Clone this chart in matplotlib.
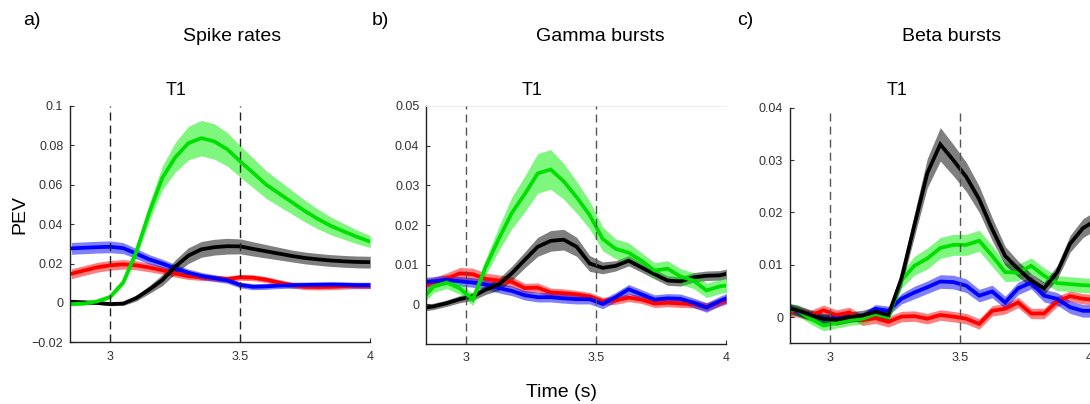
import numpy as np
import matplotlib
matplotlib.use("Agg")
import matplotlib.pyplot as plt

plt.rcParams['font.family'] = ['Liberation Sans', 'DejaVu Sans']

# ---------------- data ----------------
# Panel a (spike rates): smooth curves sampled every 50 ms
t_a = [2.85, 2.90, 2.95, 3.00, 3.05, 3.10, 3.15, 3.20, 3.25, 3.30, 3.35, 3.40,
       3.45, 3.50, 3.55, 3.60, 3.65, 3.70, 3.75, 3.80, 3.85, 3.90, 3.95, 4.00]
a_green = [-0.0006, -0.0003, 0.0008, 0.0031, 0.0105, 0.026, 0.046, 0.0635, 0.074, 0.0811, 0.0837, 0.082,
           0.078, 0.0718, 0.066, 0.0600, 0.0555, 0.0510, 0.0465, 0.0425, 0.0390, 0.0362, 0.0335, 0.0311]
a_green_err = [0.0008, 0.0008, 0.0009, 0.001, 0.0015, 0.003, 0.0045, 0.006, 0.0075, 0.0085, 0.009, 0.009,
               0.0085, 0.008, 0.0075, 0.007, 0.0065, 0.006, 0.0055, 0.005, 0.0045, 0.004, 0.0035, 0.003]
a_black = [0.0006, 0.0003, 0.0, -0.0006, -0.0003, 0.0025, 0.0068, 0.0116, 0.0184, 0.024, 0.0272, 0.0283,
           0.0288, 0.0287, 0.0274, 0.0262, 0.025, 0.0238, 0.0228, 0.0221, 0.0215, 0.0211, 0.0208, 0.0207]
a_black_err = [0.0008, 0.0008, 0.0008, 0.0008, 0.001, 0.0015, 0.002, 0.0028, 0.0035, 0.004, 0.004, 0.004,
               0.004, 0.0038, 0.0036, 0.0034, 0.0032, 0.003, 0.003, 0.003, 0.003, 0.003, 0.003, 0.003]
a_blue = [0.0277, 0.0280, 0.0283, 0.0285, 0.0278, 0.0250, 0.0221, 0.020, 0.0175, 0.0153, 0.0137, 0.0126,
          0.0115, 0.0091, 0.0082, 0.0084, 0.0088, 0.009, 0.0091, 0.0092, 0.0093, 0.0092, 0.009, 0.009]
a_blue_err = [0.003, 0.003, 0.003, 0.003, 0.0028, 0.0026, 0.0024, 0.0022, 0.002, 0.0019, 0.0018, 0.0017,
              0.0016, 0.0015, 0.0015, 0.0015, 0.0015, 0.0015, 0.0015, 0.0015, 0.0015, 0.0015, 0.0015, 0.0015]
a_red = [0.0148, 0.0165, 0.0181, 0.0191, 0.0196, 0.0191, 0.018, 0.0166, 0.0149, 0.0136, 0.013, 0.0126,
         0.0121, 0.013, 0.0128, 0.0118, 0.0103, 0.0090, 0.0082, 0.0081, 0.0082, 0.0085, 0.0087, 0.0087]
a_red_err = [0.0025, 0.0025, 0.0025, 0.0025, 0.0024, 0.0023, 0.0022, 0.002, 0.0018, 0.0017, 0.0016, 0.0015,
             0.0015, 0.0015, 0.0015, 0.0015, 0.0015, 0.0015, 0.0015, 0.0015, 0.0015, 0.0015, 0.0015, 0.0015]

# Panels b and c (bursts): 50 ms bins centred on x.x25 / x.x75
t_bc = [2.825, 2.875, 2.925, 2.975, 3.025, 3.075, 3.125, 3.175, 3.225, 3.275, 3.325, 3.375, 3.425,
        3.475, 3.525, 3.575, 3.625, 3.675, 3.725, 3.775, 3.825, 3.875, 3.925, 3.975, 4.025]

b_green = [0.001, 0.0045, 0.0055, 0.004, 0.0012, 0.0095, 0.0165, 0.023, 0.0278, 0.033, 0.034, 0.031, 0.027,
           0.0225, 0.0165, 0.014, 0.013, 0.011, 0.0085, 0.009, 0.007, 0.006, 0.0035, 0.0045, 0.005]
b_green_err = [0.0015, 0.0015, 0.0015, 0.0015, 0.0015, 0.002, 0.003, 0.004, 0.0045, 0.005, 0.005, 0.0045, 0.004,
               0.0035, 0.003, 0.0025, 0.0025, 0.002, 0.002, 0.002, 0.002, 0.002, 0.0018, 0.0018, 0.0018]
b_black = [-0.001, -0.0005, 0.0003, 0.0013, 0.002, 0.0037, 0.005, 0.0078, 0.0112, 0.0145, 0.016, 0.0163, 0.0145,
           0.0103, 0.0092, 0.0097, 0.011, 0.0093, 0.0076, 0.006, 0.0058, 0.0068, 0.0072, 0.0073, 0.008]
b_black_err = [0.0008, 0.0008, 0.0008, 0.0009, 0.001, 0.0012, 0.0015, 0.0018, 0.002, 0.0024, 0.0026, 0.0026, 0.0024,
               0.002, 0.0015, 0.0013, 0.0013, 0.0012, 0.0012, 0.0012, 0.0012, 0.0012, 0.0012, 0.0012, 0.0012]
b_blue = [0.0055, 0.0058, 0.0062, 0.0058, 0.0055, 0.005, 0.0041, 0.0034, 0.0023, 0.0018, 0.0018, 0.0015, 0.0013,
          0.0013, 0.0001, 0.0018, 0.0038, 0.0025, 0.0012, 0.0015, 0.0014, 0.0004, -0.0008, 0.0008, 0.0022]
b_blue_err = [0.0012] * 25
b_red = [0.0048, 0.0055, 0.0065, 0.0078, 0.0076, 0.0064, 0.006, 0.0057, 0.0041, 0.0042, 0.003, 0.0028, 0.0025,
         0.002, 0.0008, 0.001, 0.0017, 0.0012, 0.0002, 0.0004, 0.0002, 0.0001, -0.0006, 0.0005, 0.0015]
b_red_err = [0.0013, 0.0013, 0.0014, 0.0015, 0.0015, 0.0015, 0.0014, 0.0013, 0.0012, 0.0012, 0.0011, 0.0011, 0.001,
             0.001, 0.001, 0.001, 0.001, 0.001, 0.001, 0.001, 0.001, 0.001, 0.001, 0.001, 0.001]

c_black = [0.0018, 0.0013, 0.0004, -0.0003, -0.0005, 0.0, 0.0003, 0.001, 0.0004, 0.0073, 0.0175, 0.0275, 0.033,
           0.030, 0.0268, 0.0225, 0.0168, 0.0117, 0.0092, 0.0070, 0.0055, 0.0085, 0.0140, 0.0170, 0.0185]
c_black_err = [0.001, 0.001, 0.001, 0.001, 0.001, 0.001, 0.001, 0.001, 0.001, 0.0015, 0.0022, 0.0028, 0.0032,
               0.003, 0.0028, 0.0025, 0.0022, 0.0018, 0.0015, 0.0013, 0.0012, 0.0013, 0.0016, 0.0018, 0.0018]
c_green = [0.0015, 0.0013, -0.0003, -0.0016, -0.0011, -0.0006, -0.0003, 0.0006, 0.0, 0.0070, 0.0098, 0.0112, 0.0132,
           0.0138, 0.0138, 0.0146, 0.0117, 0.0086, 0.0085, 0.0098, 0.0079, 0.0065, 0.0063, 0.0061, 0.006]
c_green_err = [0.001, 0.001, 0.001, 0.001, 0.001, 0.001, 0.001, 0.001, 0.001, 0.0015, 0.0018, 0.002, 0.002,
               0.002, 0.002, 0.002, 0.002, 0.0018, 0.0016, 0.0015, 0.0015, 0.0014, 0.0014, 0.0014, 0.0014]
c_blue = [0.0024, 0.001, 0.0003, -0.0003, -0.0003, 0.0, 0.0, 0.0016, 0.0012, 0.0035, 0.0047, 0.0057, 0.0068,
          0.0067, 0.006, 0.0041, 0.0049, 0.0028, 0.0055, 0.0066, 0.0041, 0.0035, 0.0019, 0.0012, 0.0012]
c_blue_err = [0.0008, 0.0008, 0.0008, 0.0008, 0.0008, 0.0008, 0.0008, 0.0008, 0.0009, 0.001, 0.0012, 0.0012, 0.0013,
              0.0013, 0.0013, 0.0012, 0.0012, 0.0012, 0.0012, 0.0012, 0.0012, 0.0012, 0.0012, 0.0012, 0.0012]
c_red = [0.0012, 0.001, 0.0003, 0.0013, 0.0004, 0.0009, -0.0006, -0.0002, -0.0009, 0.0001, 0.0002, -0.0003, 0.0004,
         0.0001, -0.0003, -0.0013, 0.0012, 0.0016, 0.0028, 0.0007, 0.0007, 0.003, 0.0040, 0.0035, 0.0033]
c_red_err = [0.001] * 25

# labels
panel_letters = ["a)", "b)", "c)"]
panel_titles = ["Spike rates", "Gamma bursts", "Beta bursts"]
sub_title = "T1"
x_ticks = [3, 3.5, 4]
x_ticklabels = ["3", "3.5", "4"]
a_yticks = [-0.02, 0, 0.02, 0.04, 0.06, 0.08, 0.1]
a_yticklabels = ["\u22120.02", "0", "0.02", "0.04", "0.06", "0.08", "0.1"]
b_yticks = [0, 0.01, 0.02, 0.03, 0.04, 0.05]
b_yticklabels = ["0", "0.01", "0.02", "0.03", "0.04", "0.05"]
c_yticks = [0, 0.01, 0.02, 0.03, 0.04]
c_yticklabels = ["0", "0.01", "0.02", "0.03", "0.04"]
event_times = [3.0, 3.5]

# ---------------- style ----------------
W, H = 1090, 404
fig = plt.figure(figsize=(W / 100, H / 100), dpi=100)

def fx(px):
    return px / W

def fy(py):
    return 1 - py / H

line_col = {"red": "#ff0000", "blue": "#0000ff", "black": "#000000", "green": "#00e000"}
band_col = {"red": "#ff0000", "blue": "#0000ff", "black": "#000000", "green": "#00f000"}

# axes boxes in pixel coords: left, top, right, bottom
boxes = [(70.3, 106, 370.3, 342.3), (426.3, 106, 726.0, 344.0), (790.0, 107.7, 1089.5, 343.3)]
ylims = [(-0.02, 0.1), (-0.01, 0.05), (-0.005, 0.04)]
xlim = (2.846, 4.0)

panels = [
    (t_a, [("red", a_red, a_red_err), ("blue", a_blue, a_blue_err),
           ("black", a_black, a_black_err), ("green", a_green, a_green_err)],
     a_yticks, a_yticklabels),
    (t_bc, [("red", b_red, b_red_err), ("blue", b_blue, b_blue_err),
            ("black", b_black, b_black_err), ("green", b_green, b_green_err)],
     b_yticks, b_yticklabels),
    (t_bc, [("red", c_red, c_red_err), ("blue", c_blue, c_blue_err),
            ("green", c_green, c_green_err), ("black", c_black, c_black_err)],
     c_yticks, c_yticklabels),
]

for i, (box, (t, series, yt, ytl), yl) in enumerate(zip(boxes, panels, ylims)):
    l, tp, r, b = box
    ax = fig.add_axes([fx(l), fy(b), (r - l) / W, (b - tp) / H])
    tt = np.array(t)
    for name, v, e in series:
        v = np.array(v)
        e = np.array(e)
        ax.fill_between(tt, v - e, v + e, color=band_col[name], alpha=0.5, lw=0)
        ax.plot(tt, v, color=line_col[name], lw=2.7, solid_joinstyle="miter")
    for ev in event_times:
        ax.axvline(ev, color="#222222" if i == 0 else "#555555", lw=1.0,
                   dashes=(5.8, 3.6), zorder=5)
    ax.set_xlim(*xlim)
    ax.set_ylim(*yl)
    ax.set_xticks(x_ticks)
    ax.set_xticklabels(x_ticklabels)
    ax.set_yticks(yt)
    ax.set_yticklabels(ytl)
    ax.tick_params(direction="in", length=3, width=0.8, labelsize=9,
                   labelcolor="#333333", color="#333333")
    ax.tick_params(axis="x", pad=6)
    ax.tick_params(axis="y", pad=5)
    ax.spines["right"].set_visible(False)
    if i == 1:
        ax.spines["top"].set_color("#eeeeee")
        ax.spines["top"].set_linewidth(0.8)
    else:
        ax.spines["top"].set_visible(False)
    for s in ("left", "bottom"):
        ax.spines[s].set_linewidth(1.0)
        ax.spines[s].set_color("#222222")

# texts
letter_x = [23, 372, 737]
for x, s in zip(letter_x, panel_letters):
    fig.text(fx(x), fy(25), s, fontsize=14, ha="left", va="baseline")
title_x = [232.5, 600.5, 952]
for x, s in zip(title_x, panel_titles):
    fig.text(fx(x), fy(41), s, fontsize=14, ha="center", va="baseline")
t1_x = [176, 531.7, 897]
for x in t1_x:
    fig.text(fx(x), fy(95), sub_title, fontsize=13, ha="center", va="baseline")
fig.text(fx(19.5), fy(215), "PEV", fontsize=14, rotation=90, ha="center", va="center")
fig.text(fx(561.5), fy(396.7), "Time (s)", fontsize=14, ha="center", va="baseline")

fig.savefig("out.png", dpi=100)
